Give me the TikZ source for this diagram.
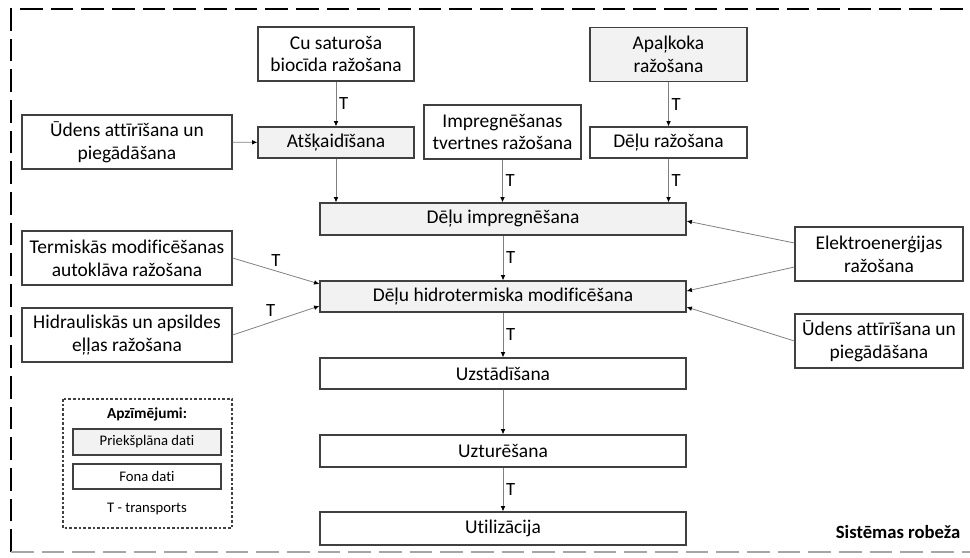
\documentclass[tikz,border=0pt]{standalone}
\usepackage{fontspec}
\setmainfont{Carlito}[Ligatures=NoCommon]
\usetikzlibrary{arrows.meta}
\definecolor{fgfill}{HTML}{F2F2F2}
\definecolor{boxline}{HTML}{404040}
\tikzset{
  box/.style={draw=boxline,line width=0.9pt,fill=white,align=center,inner sep=0pt,
    font=\fontsize{14.6}{17}\selectfont},
  fgbox/.style={box,fill=fgfill},
  legbox/.style={box,minimum width=111pt,font=\fontsize{11}{13}\selectfont},
  arr/.style={draw=gray,line width=0.6pt,-{Latex[length=4pt,width=3.5pt,black]}},
  tlab/.style={font=\fontsize{14}{16}\selectfont,inner sep=2pt}
}
\begin{document}
\begin{tikzpicture}[x=0.75pt,y=-0.75pt]
  \useasboundingbox (0,0) rectangle (970,557);
  % sistemas robeza
  \draw[line width=2pt,dash pattern=on 17pt off 6pt] (11,552) -- (11,9) -- (975,9);
  \draw[line width=1.6pt,gray!70,dash pattern=on 17pt off 6pt] (11,552) -- (975,552);
  \node[anchor=east,font=\fontsize{14}{16}\selectfont\bfseries] (robeza) at (965,532) {Sistēmas robeža};

  \node[box,minimum width=117pt,minimum height=40.5pt] (cu) at (336,54) {Cu saturoša\\biocīda ražošana};
  \node[fgbox,minimum width=117pt,minimum height=23.25pt] (atsk) at (336,142.5) {Atšķaidīšana};
  \node[box,minimum width=157.5pt,minimum height=40.5pt] (udensL) at (127,142) {Ūdens attīrīšana un\\piegādāšana};
  \node[box,minimum width=117.75pt,minimum height=40.5pt] (tvert) at (502.5,132) {Impregnēšanas\\tvertnes ražošana};
  \node[fgbox,minimum width=117.75pt,minimum height=41pt] (apal) at (668.5,54.5) {Apaļkoka\\ražošana};
  \node[box,minimum width=117.75pt,minimum height=23.25pt] (delraz) at (668.5,142.5) {Dēļu ražošana};

  \node[fgbox,minimum width=274.5pt,minimum height=24pt] (impr) at (503,219) {Dēļu impregnēšana};
  \node[fgbox,minimum width=274.5pt,minimum height=23.25pt] (hidro) at (503,296.5) {Dēļu hidrotermiska modificēšana};
  \node[box,minimum width=274.5pt,minimum height=23.25pt] (uzst) at (503,373.5) {Uzstādīšana};
  \node[box,minimum width=274.5pt,minimum height=24pt] (uztur) at (503,451) {Uzturēšana};
  \node[box,minimum width=274.5pt,minimum height=24.75pt] (util) at (503,528.5) {Utilizācija};

  \node[box,minimum width=157.5pt,minimum height=40.5pt] (term) at (127,258) {Termiskās modificēšanas\\autoklāva ražošana};
  \node[box,minimum width=157.5pt,minimum height=40.5pt] (hidr) at (127,335) {Hidrauliskās un apsildes\\eļļas ražošana};
  \node[box,minimum width=126pt,minimum height=40.5pt] (elek) at (879,254) {Elektroenerģijas\\ražošana};
  \node[box,minimum width=126pt,minimum height=40.5pt] (udensR) at (879,341) {Ūdens attīrīšana un\\piegādāšana};

  % apzimejumi
  \draw[boxline,line width=0.8pt,dash pattern=on 2pt off 1.5pt] (63,399) rectangle (232,528);
  \node[font=\fontsize{11.5}{13}\selectfont\bfseries] (legtitle) at (147,414) {Apzīmējumi:};
  \node[legbox,fill=fgfill,minimum height=19.5pt] (legfg) at (147,442) {Priekšplāna dati};
  \node[legbox,minimum height=18.75pt] (legbg) at (147,476.5) {Fona dati};
  \node[font=\fontsize{11}{13}\selectfont] (legT) at (147,509) {T - transports};

  \draw[arr] (cu) -- (atsk) node[midway,right,tlab] {T};
  \draw[arr] (udensL) -- (atsk);
  \draw[arr] (atsk.south) -- (atsk.south |- impr.north);
  \draw[arr] (tvert.south) -- (tvert.south |- impr.north) node[midway,right,tlab] {T};
  \draw[arr] (apal) -- (delraz) node[midway,right,tlab] {T};
  \draw[arr] (delraz.south) -- (delraz.south |- impr.north) node[midway,right,tlab] {T};
  \draw[arr] (impr) -- (hidro) node[midway,right,tlab] {T};
  \draw[arr] (term.east) -- ([yshift=9.4pt]hidro.west) node[midway,above,tlab,yshift=1pt] {T};
  \draw[arr] (hidr.east) -- ([yshift=-7.1pt]hidro.west) node[midway,above,tlab,xshift=-4pt,yshift=1pt] {T};
  \draw[arr] ([yshift=8.25pt]elek.west) -- ([yshift=-1.5pt]impr.east);
  \draw[arr] ([yshift=-9.75pt]elek.west) -- ([yshift=4.1pt]hidro.east);
  \draw[arr] (udensR.west) -- ([yshift=-7.9pt]hidro.east);
  \draw[arr] (hidro) -- (uzst) node[midway,right,tlab] {T};
  \draw[arr] (uzst) -- (uztur);
  \draw[arr] (uztur) -- (util) node[midway,right,tlab] {T};
\end{tikzpicture}
\end{document}
